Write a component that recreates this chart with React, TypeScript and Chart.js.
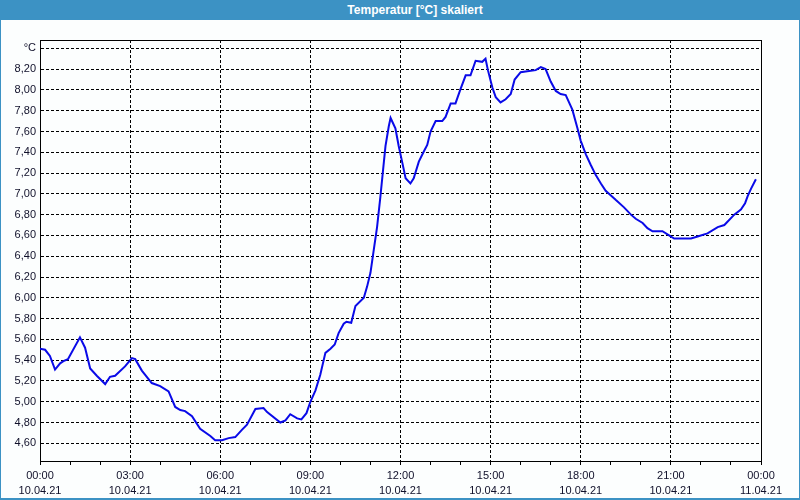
import { useEffect, useRef } from 'react';
import { Chart, registerables } from 'chart.js';

Chart.register(...registerables);

const TITLE = 'Temperatur [°C] skaliert';

// time in hours since 10.04.21 00:00
const TIME_H = [
  0.0, 0.17, 0.33, 0.5, 0.67, 0.78, 0.93, 1.33, 1.5, 1.67, 1.89, 2.17, 2.33, 2.5, 2.83,
  3.06, 3.17, 3.39, 3.72, 4.0, 4.28, 4.5, 4.67, 4.83, 5.06, 5.33, 5.67, 5.83, 6.06, 6.28,
  6.5, 6.72, 6.89, 7.17, 7.44, 7.56, 8.0, 8.17, 8.33, 8.56, 8.7, 8.87, 9.0, 9.17, 9.33,
  9.5, 9.67, 9.81, 9.94, 10.11, 10.2, 10.36, 10.5, 10.78, 10.89, 11.0, 11.11, 11.22, 11.33,
  11.42, 11.5, 11.61, 11.67, 11.83, 11.94, 12.06, 12.17, 12.33, 12.44, 12.61, 12.78, 12.89,
  13.0, 13.17, 13.39, 13.5, 13.67, 13.83, 14.0, 14.17, 14.33, 14.5, 14.72, 14.83, 14.91,
  15.06, 15.17, 15.33, 15.5, 15.67, 15.8, 16.0, 16.22, 16.5, 16.67, 16.83, 17.0, 17.17,
  17.33, 17.5, 17.72, 17.89, 18.0, 18.17, 18.33, 18.5, 18.67, 18.83, 19.06, 19.17, 19.44,
  19.67, 19.83, 20.06, 20.22, 20.39, 20.72, 20.94, 21.11, 21.67, 21.89, 22.22, 22.56, 22.78,
  23.11, 23.33, 23.47, 23.56, 23.67, 23.83,
];

const TEMP_C = [
  5.51, 5.5, 5.44, 5.31, 5.37, 5.39, 5.41, 5.62, 5.52, 5.32, 5.25, 5.17, 5.24, 5.25, 5.34,
  5.42, 5.41, 5.3, 5.18, 5.15, 5.1, 4.95, 4.92, 4.91, 4.86, 4.74, 4.67, 4.63, 4.63, 4.65,
  4.66, 4.73, 4.78, 4.93, 4.94, 4.9, 4.8, 4.82, 4.88, 4.84, 4.83, 4.89, 5.0, 5.11, 5.26,
  5.47, 5.51, 5.55, 5.66, 5.75, 5.77, 5.76, 5.92, 6.0, 6.11, 6.24, 6.46, 6.68, 6.97,
  7.23, 7.46, 7.65, 7.73, 7.63, 7.46, 7.3, 7.15, 7.1, 7.15, 7.31, 7.41, 7.47,
  7.6, 7.7, 7.7, 7.74, 7.87, 7.87, 8.01, 8.14, 8.14, 8.28, 8.27, 8.3, 8.19,
  8.02, 7.93, 7.88, 7.91, 7.96, 8.1, 8.17, 8.18, 8.19, 8.22, 8.2, 8.08, 7.99,
  7.96, 7.95, 7.81, 7.63, 7.51, 7.38, 7.28, 7.18, 7.1, 7.03, 6.97, 6.94, 6.87,
  6.8, 6.76, 6.72, 6.67, 6.64, 6.64, 6.6, 6.57, 6.57, 6.59, 6.62, 6.68, 6.7,
  6.8, 6.85, 6.91, 6.98, 7.05, 7.14,
];

const Y_MIN = 4.43;
const Y_MAX = 8.48;
const Y_TICKS = [4.6, 4.8, 5.0, 5.2, 5.4, 5.6, 5.8, 6.0, 6.2, 6.4, 6.6, 6.8, 7.0, 7.2, 7.4, 7.6, 7.8, 8.0, 8.2, 8.4];
const Y_UNIT_TICK = 8.4;
const Y_UNIT_LABEL = '°C';

const X_MIN = 0;
const X_MAX = 24;
const X_TICK_HOURS = [0, 1, 2, 3, 4, 5, 6, 7, 8, 9, 10, 11, 12, 13, 14, 15, 16, 17, 18, 19, 20, 21, 22, 23, 24];
const X_MAJOR_HOURS = [0, 3, 6, 9, 12, 15, 18, 21, 24];
const X_TIME_LABELS = ['00:00', '03:00', '06:00', '09:00', '12:00', '15:00', '18:00', '21:00', '00:00'];
const X_DATE_LABELS = ['10.04.21', '10.04.21', '10.04.21', '10.04.21', '10.04.21', '10.04.21', '10.04.21', '10.04.21', '11.04.21'];

const BAR_BLUE = '#3c92c4';
const LINE_BLUE = '#0a0ae8';
const TEXT = '#10102a';
const FONT = { family: '"Liberation Sans", Arial, sans-serif', size: 11, lineHeight: 15 / 11 };

const framePlugin = {
  id: 'plotFrame',
  afterDraw(chart: any) {
    const { ctx, chartArea } = chart;
    const l = Math.round(chartArea.left) + 0.5;
    const t = Math.round(chartArea.top) + 0.5;
    const r = Math.round(chartArea.right) + 0.5;
    const b = Math.round(chartArea.bottom) + 0.5;
    ctx.save();
    ctx.strokeStyle = '#000';
    ctx.lineWidth = 1;
    ctx.beginPath();
    ctx.moveTo(l, t);
    ctx.lineTo(r, t);
    ctx.lineTo(r, b);
    ctx.stroke();
    ctx.restore();
  },
};

export default function App() {
  const canvasRef = useRef<HTMLCanvasElement>(null);

  useEffect(() => {
    document.body.style.margin = '0';
    const canvas = canvasRef.current;
    if (!canvas) return;
    const chart = new Chart(canvas, {
      type: 'line',
      data: {
        datasets: [
          {
            label: TITLE,
            data: TIME_H.map((h, i) => ({ x: h, y: TEMP_C[i] })),
            borderColor: LINE_BLUE,
            borderWidth: 2,
            pointRadius: 0,
            tension: 0,
            fill: false,
          },
        ],
      },
      options: {
        animation: false,
        responsive: false,
        devicePixelRatio: 1,
        layout: { padding: { left: 0, top: 40, right: 39, bottom: 3 } },
        plugins: {
          legend: { display: false },
          title: { display: false },
          tooltip: { enabled: false },
        },
        scales: {
          x: {
            type: 'linear',
            min: X_MIN,
            max: X_MAX,
            afterBuildTicks: (s: any) => {
              s.ticks = X_TICK_HOURS.map((v) => ({ value: v }));
            },
            afterFit: (s: any) => {
              s.height = 36;
            },
            grid: {
              color: (c: any) => (X_MAJOR_HOURS.includes(c.tick?.value) ? '#000' : 'rgba(0,0,0,0)'),
              tickColor: '#000',
              tickLength: 4,
              lineWidth: 1,
            },
            border: { display: true, color: '#000', width: 1, dash: [3, 2] },
            ticks: {
              autoSkip: false,
              maxRotation: 0,
              padding: 3,
              color: TEXT,
              font: FONT,
              callback: (v: any) => {
                const i = X_MAJOR_HOURS.indexOf(Number(v));
                return i >= 0 ? [X_TIME_LABELS[i], X_DATE_LABELS[i]] : '';
              },
            },
          },
          y: {
            type: 'linear',
            min: Y_MIN,
            max: Y_MAX,
            afterBuildTicks: (s: any) => {
              s.ticks = Y_TICKS.map((v) => ({ value: v }));
            },
            afterFit: (s: any) => {
              s.width = 40;
            },
            grid: { color: '#000', lineWidth: 1, drawTicks: false },
            border: { display: true, color: '#000', width: 1, dash: [3, 2] },
            ticks: {
              padding: 4,
              color: TEXT,
              font: FONT,
              callback: (v: any) =>
                Math.abs(Number(v) - Y_UNIT_TICK) < 1e-6 ? Y_UNIT_LABEL : Number(v).toFixed(2).replace('.', ','),
            },
          },
        },
      },
      plugins: [framePlugin],
    });
    return () => chart.destroy();
  }, []);

  return (
    <div
      style={{
        position: 'absolute',
        left: 0,
        top: 0,
        width: 800,
        height: 500,
        boxSizing: 'border-box',
        background: '#fcfefe',
        borderLeft: `1px solid ${BAR_BLUE}`,
        borderRight: `1px solid ${BAR_BLUE}`,
        borderBottom: `2px solid ${BAR_BLUE}`,
        overflow: 'hidden',
      }}
    >
      <canvas ref={canvasRef} width={800} height={500} style={{ position: 'absolute', left: -1, top: 0 }} />
      <div
        style={{
          position: 'absolute',
          left: -1,
          top: 0,
          width: 800,
          height: 20,
          background: BAR_BLUE,
          color: '#fff',
          fontFamily: '"Liberation Sans", Arial, sans-serif',
          fontWeight: 'bold',
          fontSize: 12,
          lineHeight: '20px',
        }}
      >
        <span style={{ position: 'absolute', left: 0, width: 830, textAlign: 'center' }}>{TITLE}</span>
      </div>
    </div>
  );
}
